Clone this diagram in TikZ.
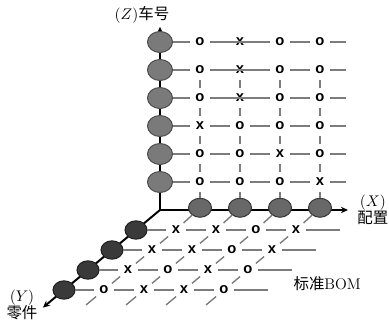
\documentclass[tikz,border=0pt]{standalone}
\usepackage{fontspec}
\newfontfamily\cjk{Noto Sans CJK SC}
\newfontfamily\markfont{Liberation Sans}
\usetikzlibrary{arrows.meta,shapes.geometric}
\definecolor{linegray}{RGB}{125,125,125}
\definecolor{zfill}{RGB}{122,122,122}
\definecolor{zedge}{RGB}{75,75,75}
\definecolor{xfill}{RGB}{104,104,104}
\definecolor{xedge}{RGB}{55,55,55}
\definecolor{yfill}{RGB}{58,58,58}
\definecolor{yedge}{RGB}{30,30,30}
\begin{document}
\begin{tikzpicture}[x={(1cm,0cm)},y={(-0.6cm,-0.5cm)},z={(0cm,0.7cm)},
  mk/.style={circle,inner sep=0pt,minimum size=0.5cm,font=\markfont\bfseries\fontsize{10.5}{10.5}\selectfont},
  zball/.style={ellipse,draw=zedge,fill=zfill,line width=0.7pt,inner sep=0pt,minimum width=0.625cm,minimum height=0.525cm},
  xball/.style={ellipse,draw=xedge,fill=xfill,line width=0.7pt,inner sep=0pt,minimum width=0.575cm,minimum height=0.475cm},
  yball/.style={ellipse,draw=yedge,fill=yfill,line width=0.7pt,inner sep=0pt,minimum width=0.55cm,minimum height=0.46cm},
  gridln/.style={linegray,line width=1pt},
  axisln/.style={black,line width=1.4pt,-{Stealth[length=5pt,width=4.5pt]}},
  lab/.style={font=\fontsize{11}{12}\selectfont,align=center}]
  \useasboundingbox (-4cm,-2.9cm) rectangle (5.725cm,5.25cm);
  \def\xe{4.65}
  \def\ye{5.1}
  \coordinate (O) at (0,0,0);
  \coordinate (xtip) at (4.7,0,0);
  \coordinate (ytip) at (0,4.88,0);
  \coordinate (ztip) at (0,0,6.54);
  \draw[axisln] (O) -- (xtip);
  \draw[axisln] (O) -- (ytip);
  \draw[axisln] (O) -- (ztip);
  \node[zball] (z1) at (0,0,1) {};
  \node[zball] (z2) at (0,0,2) {};
  \node[zball] (z3) at (0,0,3) {};
  \node[zball] (z4) at (0,0,4) {};
  \node[zball] (z5) at (0,0,5) {};
  \node[zball] (z6) at (0,0,6) {};
  \node[xball] (x1) at (1,0,0.08) {};
  \node[xball] (x2) at (2,0,0.08) {};
  \node[xball] (x3) at (3,0,0.08) {};
  \node[xball] (x4) at (4,0,0.08) {};
  \node[yball] (y1) at (0,1,0) {};
  \node[yball] (y2) at (0,2,0) {};
  \node[yball] (y3) at (0,3,0) {};
  \node[yball] (y4) at (0,4,0) {};
  \node[mk] (v1-1) at (1,0,1) {o}; \node[mk] (v2-1) at (2,0,1) {o}; \node[mk] (v3-1) at (3,0,1) {o}; \node[mk] (v4-1) at (4,0,1) {x};
  \node[mk] (v1-2) at (1,0,2) {o}; \node[mk] (v2-2) at (2,0,2) {o}; \node[mk] (v3-2) at (3,0,2) {x}; \node[mk] (v4-2) at (4,0,2) {o};
  \node[mk] (v1-3) at (1,0,3) {x}; \node[mk] (v2-3) at (2,0,3) {o}; \node[mk] (v3-3) at (3,0,3) {o}; \node[mk] (v4-3) at (4,0,3) {o};
  \node[mk] (v1-4) at (1,0,4) {o}; \node[mk] (v2-4) at (2,0,4) {x}; \node[mk] (v3-4) at (3,0,4) {o}; \node[mk] (v4-4) at (4,0,4) {o};
  \node[mk] (v1-5) at (1,0,5) {o}; \node[mk] (v2-5) at (2,0,5) {x}; \node[mk] (v3-5) at (3,0,5) {o}; \node[mk] (v4-5) at (4,0,5) {o};
  \node[mk] (v1-6) at (1,0,6) {o}; \node[mk] (v2-6) at (2,0,6) {x}; \node[mk] (v3-6) at (3,0,6) {o}; \node[mk] (v4-6) at (4,0,6) {o};
  \node[mk] (h1-1) at (1,1,0) {x}; \node[mk] (h2-1) at (2,1,0) {x}; \node[mk] (h3-1) at (3,1,0) {o}; \node[mk] (h4-1) at (4,1,0) {x};
  \node[mk] (h1-2) at (1,2,0) {x}; \node[mk] (h2-2) at (2,2,0) {x}; \node[mk] (h3-2) at (3,2,0) {o}; \node[mk] (h4-2) at (4,2,0) {x};
  \node[mk] (h1-3) at (1,3,0) {x}; \node[mk] (h2-3) at (2,3,0) {o}; \node[mk] (h3-3) at (3,3,0) {x}; \node[mk] (h4-3) at (4,3,0) {o};
  \node[mk] (h1-4) at (1,4,0) {o}; \node[mk] (h2-4) at (2,4,0) {x}; \node[mk] (h3-4) at (3,4,0) {x}; \node[mk] (h4-4) at (4,4,0) {o};
  \coordinate (ve1) at (\xe,0,1); \coordinate (ve2) at (\xe,0,2); \coordinate (ve3) at (\xe,0,3);
  \coordinate (ve4) at (\xe,0,4); \coordinate (ve5) at (\xe,0,5); \coordinate (ve6) at (\xe,0,6);
  \coordinate (he1) at (\ye,1,0); \coordinate (he2) at (\ye,2,0); \coordinate (he3) at (\ye,3,0); \coordinate (he4) at (\ye,4,0);
  \coordinate (hb1) at (1,4.75,0); \coordinate (hb2) at (2,4.75,0); \coordinate (hb3) at (3,4.75,0); \coordinate (hb4) at (4,4.75,0);
  \draw[gridln] (z1) -- (v1-1) (v1-1) -- (v2-1) (v2-1) -- (v3-1) (v3-1) -- (v4-1) (v4-1) -- (ve1);
  \draw[gridln] (z2) -- (v1-2) (v1-2) -- (v2-2) (v2-2) -- (v3-2) (v3-2) -- (v4-2) (v4-2) -- (ve2);
  \draw[gridln] (z3) -- (v1-3) (v1-3) -- (v2-3) (v2-3) -- (v3-3) (v3-3) -- (v4-3) (v4-3) -- (ve3);
  \draw[gridln] (z4) -- (v1-4) (v1-4) -- (v3-4) (v3-4) -- (v4-4) (v4-4) -- (ve4);
  \draw[gridln] (z5) -- (v1-5) (v1-5) -- (v3-5) (v3-5) -- (v4-5) (v4-5) -- (ve5);
  \draw[gridln] (z6) -- (v1-6) (v1-6) -- (v3-6) (v3-6) -- (v4-6) (v4-6) -- (ve6);
  \draw[gridln] (x1) -- (v1-1) (v1-1) -- (v1-2) (v1-2) -- (v1-3) (v1-3) -- (v1-4) (v1-4) -- (v1-5);
  \draw[gridln] (x2) -- (v2-1) (v2-1) -- (v2-2) (v2-2) -- (v2-3) (v2-3) -- (v2-4) (v2-4) -- (v2-5);
  \draw[gridln] (x3) -- (v3-1) (v3-1) -- (v3-2) (v3-2) -- (v3-3) (v3-3) -- (v3-4) (v3-4) -- (v3-5);
  \draw[gridln] (x4) -- (v4-1) (v4-1) -- (v4-2) (v4-2) -- (v4-3) (v4-3) -- (v4-4) (v4-4) -- (v4-5);
  \draw[gridln] (y1) -- (h1-1) (h1-1) -- (h2-1) (h2-1) -- (h3-1) (h3-1) -- (h4-1) (h4-1) -- (he1);
  \draw[gridln] (y2) -- (h1-2) (h1-2) -- (h2-2) (h2-2) -- (h3-2) (h3-2) -- (h4-2) (h4-2) -- (he2);
  \draw[gridln] (y3) -- (h1-3) (h1-3) -- (h2-3) (h2-3) -- (h3-3) (h3-3) -- (h4-3) (h4-3) -- (he3);
  \draw[gridln] (y4) -- (h1-4) (h1-4) -- (h2-4) (h2-4) -- (h3-4) (h3-4) -- (h4-4) (h4-4) -- (he4);
  \draw[gridln] (x1) -- (h1-1) (h1-1) -- (h1-2) (h1-2) -- (h1-3) (h1-3) -- (h1-4) (h1-4) -- (hb1);
  \draw[gridln] (x2) -- (h2-1) (h2-1) -- (h2-2) (h2-2) -- (h2-3) (h2-3) -- (h2-4) (h2-4) -- (hb2);
  \draw[gridln] (x3) -- (h3-1) (h3-1) -- (h3-2) (h3-2) -- (h3-3) (h3-3) -- (h3-4) (h3-4) -- (hb3);
  \draw[gridln] (x4) -- (h4-1) (h4-1) -- (h4-2) (h4-2) -- (h4-3) (h4-3) -- (h4-4) (h4-4) -- (hb4);
  \node[lab] (zlab) at (-0.45cm,4.875cm) {$(Z)${\cjk 车号}};
  \node[lab] (xlab) at (5.32cm,0cm) {$(X)$\\{\cjk 配置}};
  \node[lab] (ylab) at (-3.45cm,-2.38cm) {$(Y)$\\{\cjk 零件}};
  \node[lab] (bom) at (4.18cm,-1.83cm) {{\cjk 标准}BOM};
\end{tikzpicture}
\end{document}
